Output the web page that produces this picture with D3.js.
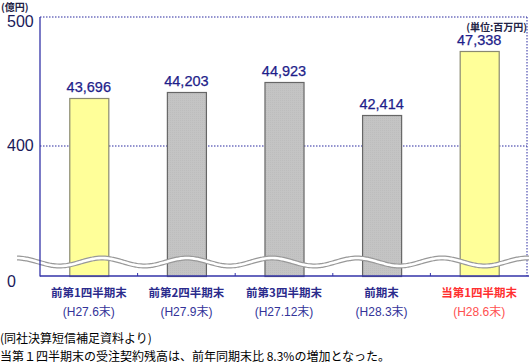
<!DOCTYPE html>
<html><head><meta charset="utf-8">
<script src="https://cdn.jsdelivr.net/npm/d3@7"></script>
<style>body{margin:0;background:#fff}svg{display:block}</style>
</head><body>
<script>
const categories = ["前第1四半期末","前第2四半期末","前第3四半期末","前期末","当第1四半期末"];
const periods = ["(H27.6末)","(H27.9末)","(H27.12末)","(H28.3末)","(H28.6末)"];
const values = [43696, 44203, 44923, 42414, 47338];
const highlight = [true, false, false, false, true];
const currentIdx = [false, false, false, false, true];
const yTicks = [0, 400, 500];
const yTickLabels = ["0", "400", "500"];

(function(){
const W = 530, H = 363;
const svg = d3.select("body").append("svg").attr("width", W).attr("height", H);
const defs = svg.append("defs");
const pat = defs.append("pattern").attr("id","grayTex").attr("width",2).attr("height",2).attr("patternUnits","userSpaceOnUse");
pat.append("rect").attr("width",2).attr("height",2).attr("fill","#c4c4c4");
pat.append("rect").attr("width",1).attr("height",1).attr("fill","#bdbdbd");

const pLeft = 40, pRight = 527, pTop = 17, pBottom = 276;
// broken axis: piecewise scale (values in 億円)
const y = d3.scaleLinear().domain([0, 400, 500]).range([pBottom, 146, pTop]);
const x = d3.scaleBand().domain(categories).range([pLeft, 528]).paddingInner(0.6).paddingOuter(0.3);

// gridlines
svg.append("line").attr("x1",pLeft).attr("x2",pRight).attr("y1",y(400)).attr("y2",y(400))
  .attr("stroke","#2a2aa0").attr("stroke-width",1.2).attr("stroke-dasharray","1.5,1.5");
svg.append("line").attr("x1",pLeft).attr("x2",pRight).attr("y1",y(500)).attr("y2",y(500))
  .attr("stroke","#2a2aa0").attr("stroke-width",1.2).attr("stroke-dasharray","1.5,1.5");
svg.append("line").attr("x1",pRight).attr("x2",pRight).attr("y1",y(500)).attr("y2",pBottom)
  .attr("stroke","#2a2aa0").attr("stroke-width",1).attr("stroke-dasharray","1.5,1.5");

// bars
svg.selectAll("rect.bar").data(values).enter().append("rect").attr("class","bar")
  .attr("x",(d,i)=>x(categories[i])+0.5)
  .attr("width",x.bandwidth())
  .attr("y",d=>Math.round(y(d/100))+0.5)
  .attr("height",d=>pBottom - Math.round(y(d/100)))
  .attr("fill",(d,i)=>highlight[i] ? "#ffff99" : "url(#grayTex)")
  .attr("stroke",(d,i)=>highlight[i] ? "#8a8a70" : "#666")
  .attr("stroke-width",1.2);

// value labels
svg.selectAll("text.val").data(values).enter().append("text").attr("class","val")
  .attr("x",(d,i)=>x(categories[i])+x.bandwidth()/2)
  .attr("y",d=>y(d/100)-6)
  .attr("text-anchor","middle")
  .attr("font-family","Liberation Sans, Arial, sans-serif")
  .attr("font-size",14.5)
  .attr("stroke","#1e1e8a").attr("stroke-width",0.25)
  .attr("fill","#1e1e8a")
  .text(d=>d3.format(",")(d));

// wave break
const wavePts = d3.range(17, 531, 2).map(px => [px, 262 - 4*Math.cos((px-272)/85*2*Math.PI)]);
const wl = d3.line().curve(d3.curveBasis);
svg.append("path").attr("d",wl(wavePts)).attr("fill","none").attr("stroke","#999").attr("stroke-width",5);
svg.append("path").attr("d",wl(wavePts)).attr("fill","none").attr("stroke","#ffffff").attr("stroke-width",2.6);

// axes
svg.append("line").attr("x1",pLeft).attr("x2",pLeft).attr("y1",pTop).attr("y2",pBottom+0.5).attr("stroke","#3333a8").attr("stroke-width",1.3);
svg.append("line").attr("x1",pLeft).attr("x2",529).attr("y1",pBottom).attr("y2",pBottom).attr("stroke","#3333a8").attr("stroke-width",1.3);
const bounds = categories.slice(1).map(c => x(c) - x.step()*x.paddingInner()/2);
svg.selectAll("line.tk").data(bounds).enter().append("line")
  .attr("x1",d=>d).attr("x2",d=>d).attr("y1",pBottom-3).attr("y2",pBottom).attr("stroke","#3333a8");

// y tick labels
const yOff = {0: 11, 400: 5, 500: 10};
svg.selectAll("text.yt").data(yTicks).enter().append("text")
  .attr("x",7).attr("y",d=>y(d)+yOff[d])
  .attr("font-family","Liberation Sans, Arial, sans-serif").attr("font-size",16)
  .attr("fill","#1a1a5a").text((d,i)=>yTickLabels[i]);

svg.append("text").attr("x",1).attr("y",11).attr("font-family","Noto Sans CJK JP").attr("font-size",10)
  .attr("font-weight","bold").attr("fill","#222244").text("(億円)");
svg.append("text").attr("x",527).attr("y",31).attr("text-anchor","end").attr("font-family","Noto Sans CJK JP")
  .attr("font-size",10).attr("font-weight","bold").attr("fill","#222244").text("(単位:百万円)");

// category labels
svg.selectAll("text.cat").data(categories).enter().append("text")
  .attr("x",c=>x(c)+x.bandwidth()/2).attr("y",297).attr("text-anchor","middle")
  .attr("font-family","Noto Sans CJK JP").attr("font-size",11.5).attr("font-weight","bold")
  .attr("fill",(c,i)=>currentIdx[i] ? "#ff3030" : "#2b2b8c").text(c=>c);
svg.selectAll("text.per").data(periods).enter().append("text")
  .attr("x",(p,i)=>x(categories[i])+x.bandwidth()/2).attr("y",316).attr("text-anchor","middle")
  .attr("font-family","Liberation Sans, Noto Sans CJK JP, sans-serif").attr("font-size",12)
  .attr("fill",(p,i)=>currentIdx[i] ? "#ff5050" : "#333399").text(p=>p);

// notes
svg.append("text").attr("x",0).attr("y",343).attr("font-family","Noto Sans CJK JP").attr("font-size",12)
  .attr("fill","#000").text("(同社決算短信補足資料より)");
svg.append("text").attr("x",0).attr("y",361).attr("font-family","Noto Sans CJK JP").attr("font-size",12)
  .attr("fill","#000").text("当第１四半期末の受注契約残高は、前年同期末比 8.3%の増加となった。");
})();
</script>
</body></html>
